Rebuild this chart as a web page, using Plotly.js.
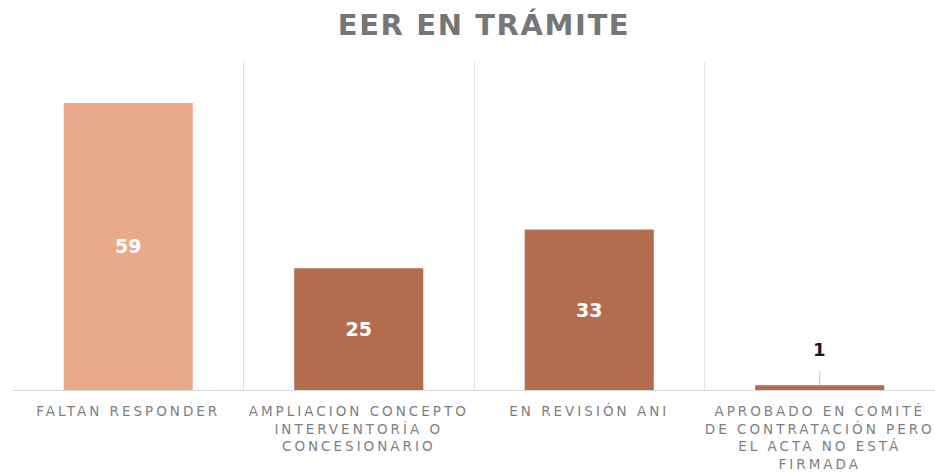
<!DOCTYPE html>
<html>
<head>
<meta charset="utf-8">
<script src="https://cdn.plot.ly/plotly-3.0.1.min.js"></script>
<style>body{margin:0;background:#fff}</style>
</head>
<body>
<div id="chart" style="width:935px;height:475px"></div>
<script>
const categories = [
  "FALTAN RESPONDER",
  "AMPLIACION CONCEPTO<br>INTERVENTORÍA O<br>CONCESIONARIO",
  "EN REVISIÓN ANI",
  "APROBADO EN COMITÉ<br>DE CONTRATACIÓN PERO<br>EL ACTA NO ESTÁ<br>FIRMADA"
];
const values = [59, 25, 33, 1];
const barColors = ["#EAAA89", "#B36D4E", "#B36D4E", "#B36D4E"];

const insideText = values.map(v => v > 1 ? String(v) : "");

const trace = {
  type: "bar",
  x: categories,
  y: values,
  width: 0.56,
  marker: {color: barColors},
  text: insideText,
  textposition: "inside",
  insidetextanchor: "middle",
  textfont: {family: "DejaVu Sans", size: 19, color: "#ffffff", weight: "bold"},
  hoverinfo: "skip",
  cliponaxis: false
};

const annotations = values.map((v, i) => v > 1 ? null : {
  x: categories[i], y: v, xref: "x", yref: "y",
  text: "<b>" + v + "</b>",
  showarrow: true, arrowhead: 0, arrowwidth: 1, arrowcolor: "#bfbfbf",
  ax: 0, ay: -36, standoff: 0, startstandoff: 10,
  font: {family: "DejaVu Sans", size: 18, color: "#1a1a1a"}
}).filter(a => a);

const layout = {
  width: 935, height: 475,
  margin: {l: 13, r: 0, t: 62, b: 85},
  paper_bgcolor: "#fff", plot_bgcolor: "#fff",
  title: {
    text: "<b>EER EN TRÁMITE</b>",
    x: 484/935, xref: "container", xanchor: "center",
    y: 0.947, yref: "container", yanchor: "middle",
    font: {family: "DejaVu Sans", size: 29, color: "#767676"}
  },
  xaxis: {
    type: "category",
    tickson: "boundaries",
    showgrid: true, gridcolor: "#e3e3e3", gridwidth: 1,
    showline: true, linecolor: "#d9d9d9", linewidth: 1,
    ticks: "", ticklen: 0,
    ticklabelstandoff: 9,
    tickfont: {family: "DejaVu Sans", size: 13.5, color: "#7f7f7f"},
    tickangle: 0,
    automargin: false,
    zeroline: false
  },
  yaxis: {
    range: [0, 67.4],
    visible: false,
    showgrid: false, zeroline: false
  },
  annotations: annotations,
  showlegend: false,
  bargap: 0.44
};

Plotly.newPlot("chart", [trace], layout, {displayModeBar: false, staticPlot: true}).then(() => {
  document.querySelectorAll(".xtick text").forEach(t => t.style.letterSpacing = "3px");
  document.querySelectorAll(".gtitle").forEach(t => t.style.letterSpacing = "1.6px");
});
</script>
</body>
</html>
